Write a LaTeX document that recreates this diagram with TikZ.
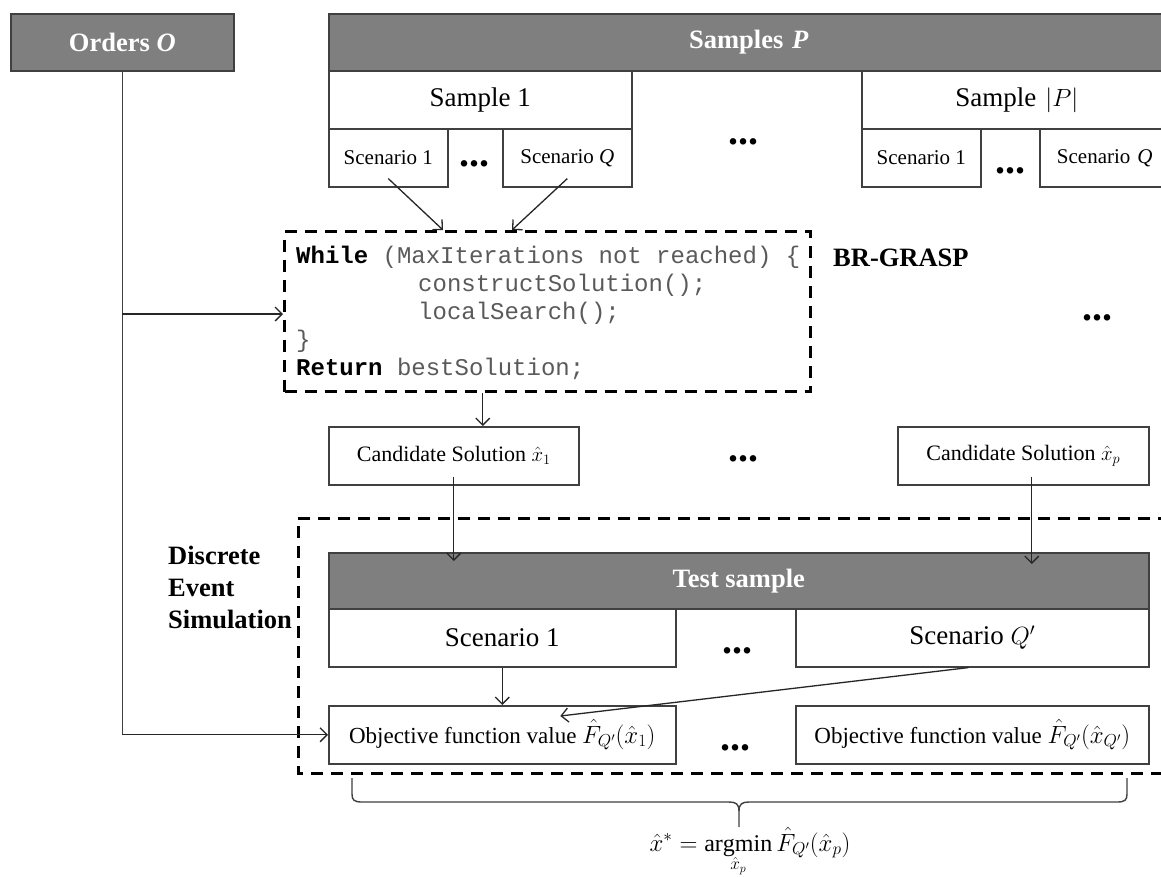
\documentclass[tikz,border=0pt]{standalone}
\usepackage{fontspec}
\setmainfont{Liberation Serif}
\setmonofont{Liberation Mono}
\usetikzlibrary{arrows.meta,calc}
\definecolor{hdrgray}{HTML}{7F7F7F}
\definecolor{bordergray}{HTML}{404040}
\definecolor{codegray}{HTML}{5A5A5A}
\tikzset{
  basebox/.style={draw=bordergray, line width=1.6pt, rectangle, anchor=north west, inner sep=0pt, align=center},
  hdr/.style={basebox, fill=hdrgray, text=white, font=\fontsize{26.5}{30}\selectfont\bfseries},
  bigbox/.style={basebox, font=\fontsize{27}{30}\selectfont},
  smallbox/.style={basebox, font=\fontsize{21}{24}\selectfont},
  midbox/.style={basebox, font=\fontsize{23}{26}\selectfont},
  dashbox/.style={draw=black, line width=3pt, dash pattern=on 12pt off 8pt},
  arr/.style={draw=black!85, line width=1.3pt, -{Straight Barb[length=7pt,width=14pt]}},
  plainline/.style={draw=black!75, line width=1.5pt},
  dotsnode/.style={font=\fontsize{40}{40}\selectfont\bfseries, inner sep=0pt},
  codeline/.style={anchor=base west, inner sep=0pt, font=\fontsize{24}{28}\selectfont\ttfamily, text=codegray},
  lbl/.style={font=\fontsize{26.5}{32}\selectfont\bfseries, inner sep=0pt}
}
\begin{document}
\begin{tikzpicture}[x=1pt,y=-1pt]
\clip (0,0) rectangle (1161,876);
\fill[white] (0,0) rectangle (1161,876);

% top headers
\node[hdr, minimum width=223pt, minimum height=57pt] (orders) at (10,13) {Orders \textit{O}};
\node[hdr, minimum width=840pt, minimum height=57pt, text width=833pt] (samples) at (328,13) {Samples \textit{P}};

% sample 1
\node[bigbox, minimum width=303pt, minimum height=58pt] (sample1) at (328,70) {Sample 1};
\node[smallbox, minimum width=119pt, minimum height=58pt] (s1scen1) at (328,128) {Scenario 1};
\node[smallbox, minimum width=129pt, minimum height=58pt] (s1scenQ) at (502,128) {Scenario \textit{Q}};
\node[dotsnode] (s1dots) at (474,164) {...};
\node[dotsnode] (middots) at (743,142) {...};

% sample |P|
\node[bigbox, minimum width=310pt, minimum height=58pt, text width=300pt] (sampleP) at (861,70) {Sample $|P|$};
\node[smallbox, minimum width=119pt, minimum height=58pt] (sPscen1) at (861,128) {Scenario 1};
\node[smallbox, minimum width=130pt, minimum height=58pt, text width=122pt] (sPscenQ) at (1039,128) {Scenario \textit{Q}};
\node[dotsnode] (sPdots) at (1010,171) {...};

% BR-GRASP
\node[dashbox, rectangle, anchor=north west, minimum width=526pt, minimum height=160pt, inner sep=0pt] (grasp) at (283,230) {};
\node[codeline] (c1) at (296,263) {\textcolor{black}{\textbf{While}} (MaxIterations not reached) \{};
\node[codeline] (c2) at (418,291) {constructSolution();};
\node[codeline] (c3) at (418,319) {localSearch();};
\node[codeline] (c4) at (296,347) {\}};
\node[codeline] (c5) at (296,375) {\textcolor{black}{\textbf{Return}} bestSolution;};
\node[lbl, anchor=base west] (brgrasp) at (833,266) {BR-GRASP};
\node[dotsnode] (rdots) at (1097,318) {...};

% candidates
\node[midbox, font=\fontsize{22}{26}\selectfont, minimum width=250pt, minimum height=58pt] (cand1) at (328,426) {Candidate Solution $\hat{x}_1$};
\node[dotsnode] (canddots) at (743,459) {...};
\node[midbox, font=\fontsize{22}{26}\selectfont, minimum width=251pt, minimum height=58pt] (candp) at (897,426) {Candidate Solution $\hat{x}_p$};

% DES
\draw[dashbox] (1170,518) -- (298,518) -- (298,773) -- (1170,773);
\node[lbl, anchor=base west, align=left] (deslbl) at (168,628) {Discrete\\Event\\Simulation};

\node[hdr, minimum width=820pt, minimum height=56pt] (test) at (328,552) {Test sample};
\node[bigbox, minimum width=347pt, minimum height=58pt] (tscen1) at (328,608) {Scenario 1};
\node[bigbox, minimum width=353pt, minimum height=58pt] (tscenQ) at (795,608) {Scenario $Q'$};
\node[dotsnode] (tdots) at (737,651) {...};

\node[midbox, minimum width=347pt, minimum height=58pt] (obj1) at (328,705) {Objective function value $\hat{F}_{Q'}(\hat{x}_1)$};
\node[midbox, minimum width=353pt, minimum height=58pt] (obj2) at (795,705) {Objective function value $\hat{F}_{Q'}\big(\hat{x}_{Q'}\big)$};
\node[dotsnode] (odots) at (735,748) {...};

% formula
\node[anchor=base, inner sep=0pt, font=\fontsize{24}{28}\selectfont] (formula) at (750,851) {$\hat{x}^{*} = \mathop{\mathrm{argmin}}\limits_{\hat{x}_p} \hat{F}_{Q'}\big(\hat{x}_p\big)$};

% brace
\draw[plainline, line width=1.4pt]
  (352,778) -- (352,794) .. controls (352,800) and (354,802) .. (362,802)
  -- (729,802) .. controls (736,802) and (739,804) .. (739,811) -- (739,827);
\draw[plainline, line width=1.4pt]
  (1127,778) -- (1127,794) .. controls (1127,800) and (1125,802) .. (1117,802)
  -- (749,802) .. controls (742,802) and (739,804) .. (739,811);

% connectors
\draw[plainline] (orders.south) -- (orders.south |- obj1.west) coordinate (ocorner);
\draw[arr] (ocorner) -- (obj1.west);
\draw[arr] (orders.south |- 0,314) -- (grasp.west |- 0,314);

\draw[arr] ([yshift=9pt]s1scen1.south) -- ([xshift=160pt]grasp.north west);
\draw[arr] ([yshift=9pt]s1scenQ.south) -- ([xshift=229pt]grasp.north west);

\draw[arr] ([xshift=29pt]cand1.north |- grasp.south) -- ([xshift=29pt]cand1.north);
\draw[arr] ([yshift=9pt]cand1.south) -- ([yshift=-9pt]cand1.south |- test.north);
\draw[arr] ([xshift=8.5pt,yshift=9pt]candp.south) -- ([xshift=8.5pt,yshift=-12pt]candp.south |- test.north);

\draw[arr] (tscen1.south) -- (obj1.north);
\draw[arr] ([xshift=-4pt]tscenQ.south) -- ([xshift=58pt,yshift=-11pt]obj1.north);
\end{tikzpicture}
\end{document}
